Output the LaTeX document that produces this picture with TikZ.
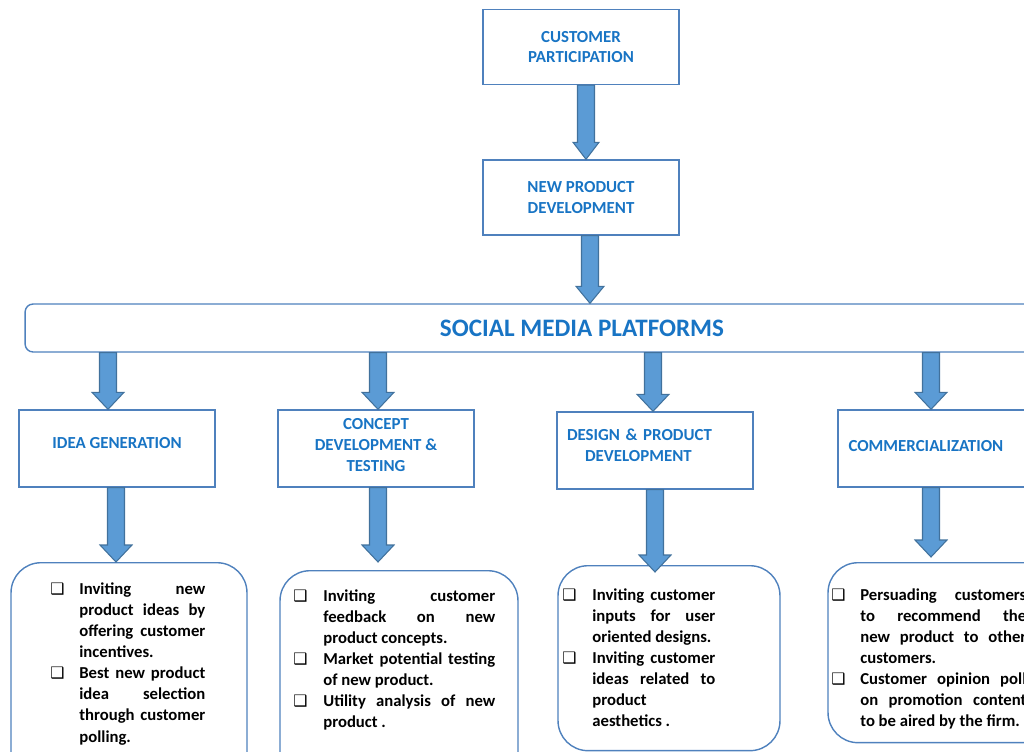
\documentclass[tikz,border=0pt]{standalone}
\usepackage{fontspec}
\setmainfont{Carlito}
\newfontfamily\symfont{DejaVu Sans}
\usetikzlibrary{calc}

\newlength\px \setlength\px{0.02cm}
\newlength\bind \setlength\bind{29\px}
\definecolor{boxline}{RGB}{79,129,189}
\definecolor{arrowfill}{RGB}{91,155,213}
\definecolor{arrowline}{RGB}{65,113,156}
\definecolor{labelblue}{RGB}{24,116,196}

\newcommand\bitem[1]{\par\noindent\hangindent=\bind\hangafter=1%
  \makebox[\bind][l]{{\symfont\small ❑}}#1\par}
\newcommand\barrow[3][16]{%
  \draw[barrow] let \p1=(#2), \p2=(#3) in
    ({\x2-8.5*\px},\y1) -- ({\x2+8.5*\px},\y1) -- ({\x2+8.5*\px},{\y2+17*\px})
    -- ({\x2+#1*\px},{\y2+17*\px}) -- (\x2,\y2) -- ({\x2-#1*\px},{\y2+17*\px})
    -- ({\x2-8.5*\px},{\y2+17*\px}) -- cycle;}

\begin{document}
\begin{tikzpicture}[x=\px,y=-\px,
  box/.style={draw=boxline,line width=0.8pt,minimum width=3.92cm,minimum height=1.5cm,
    inner sep=0pt,align=center,text=labelblue,font=\bfseries\fontsize{9.6}{11.9}\selectfont},
  panel/.style={draw=boxline,line width=0.8pt,rounded corners=0.6cm,anchor=north},
  points/.style={anchor=north west,inner sep=0pt,align=justify,
    font=\bfseries\fontsize{9.5}{12}\selectfont},
  barrow/.style={fill=arrowfill,draw=arrowline,line width=0.6pt}]
  \useasboundingbox (0,0) rectangle (1024,751);
  \clip (0,0) rectangle (1024,751);

  \node[box] (cp)  at (581,47)    {CUSTOMER\\PARTICIPATION};
  \node[box] (npd) at (581,197.5) {NEW PRODUCT\\DEVELOPMENT};
  \node[draw=boxline,line width=0.8pt,rounded corners=0.16cm,minimum width=22.28cm,
    minimum height=0.96cm,text=labelblue,font=\bfseries\fontsize{14.3}{17}\selectfont]
    (smp) at (582,328) {SOCIAL MEDIA PLATFORMS};

  \node[box,minimum height=1.54cm,text depth=6pt] (ig) at (117,448.5) {IDEA GENERATION};
  \node[box,minimum height=1.54cm,text depth=4pt] (cd) at (376,448.5)
    {CONCEPT\\DEVELOPMENT \&\\TESTING};
  \node[box,minimum height=1.54cm,text depth=18pt,text width=3.52cm,align=left] (ds)
    at (655,450.5) {DESIGN \& PRODUCT\\\hspace*{18\px}DEVELOPMENT};
  \node[box,minimum height=1.54cm,text depth=3pt,text width=3.5cm,align=left] (cm)
    at (936,448.5) {COMMERCIALIZATION};

  \node[panel,minimum width=4.72cm,minimum height=5cm] (p1) at (129,562) {};
  \node[panel,minimum width=4.76cm,minimum height=5cm] (p2) at (399,570) {};
  \node[panel,minimum width=4.44cm,minimum height=3.7cm] (p3) at (669,565) {};
  \node[panel,minimum width=4.64cm,minimum height=3.6cm] (p4) at (944,562) {};

  \node[points,text width=3.1cm] (t1) at (50,573)
    {\bitem{Inviting new\linebreak product ideas by\linebreak offering customer\linebreak incentives.}
     \bitem{Best new product\linebreak idea selection\linebreak through customer\linebreak polling.}};
  \node[points,text width=4.04cm,/utils/exec={\setlength\bind{30\px}}] (t2) at (293,580)
    {\bitem{Inviting customer\linebreak feedback on new\linebreak product concepts.}
     \bitem{Market potential testing\linebreak of new product.}
     \bitem{Utility analysis of new\linebreak product .}};
  \node[points,text width=3.06cm,/utils/exec={\setlength\bind{30\px}}] (t3) at (562,579)
    {\bitem{Inviting customer\linebreak inputs for user\linebreak oriented designs.}
     \bitem{Inviting customer\linebreak ideas related to\linebreak product\linebreak aesthetics .}};
  \node[points,text width=3.9cm] (t4) at (831,579)
    {\bitem{Persuading customers\linebreak to recommend the\linebreak new product to other\linebreak customers.}
     \bitem{Customer opinion poll\linebreak on promotion content\linebreak to be aired by the firm.}};

  \barrow[13]{cp.south}{$(npd.north)+(5,0)$}
  \barrow[14]{npd.south}{$(smp.north)+(8,0)$}
  \barrow{smp.south}{$(ig.north)+(-9,0)$}
  \barrow{smp.south}{$(cd.north)+(2,0)$}
  \barrow{smp.south}{$(ds.north)+(-2,0)$}
  \barrow{smp.south}{$(cm.north)+(-5,0)$}
  \barrow{ig.south}{$(p1.north -| ig.south)+(-1,0)$}
  \barrow{cd.south}{$(p2.north -| cd.south)+(2,-8)$}
  \barrow{ds.south}{$(p3.north -| ds.south)+(0,7)$}
  \barrow{cm.south}{$(p4.north -| cm.south)+(-5,-5)$}
\end{tikzpicture}
\end{document}
